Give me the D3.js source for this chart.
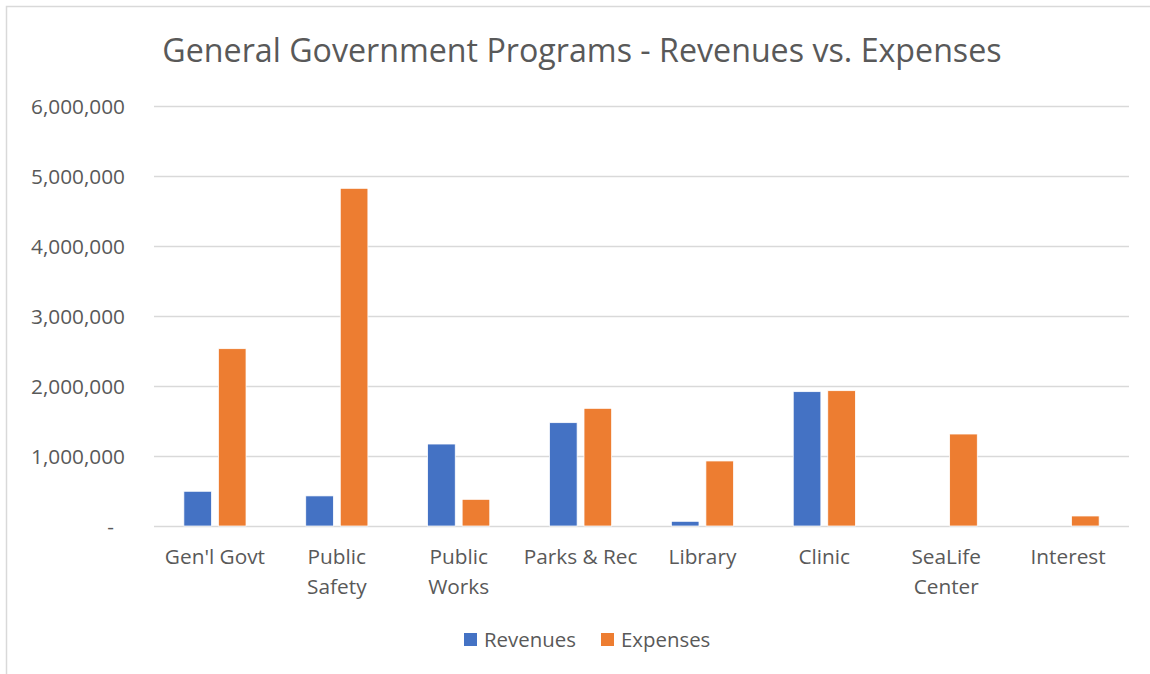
<!DOCTYPE html>
<html>
<head>
<meta charset="utf-8">
<script src="https://cdn.jsdelivr.net/npm/d3@7"></script>
<style>
  body { margin: 0; background: #fff; }
  svg { display: block; font-family: "Open Sans", sans-serif; }
</style>
</head>
<body>
<svg id="chart" width="1150" height="674"></svg>
<script>
var categories = [["Gen'l Govt"], ["Public", "Safety"], ["Public", "Works"], ["Parks & Rec"],
                  ["Library"], ["Clinic"], ["SeaLife", "Center"], ["Interest"]];
var seriesNames = ["Revenues", "Expenses"];
var revenues = [496000, 430000, 1171000, 1476000, 67000, 1919000, 0, 0];
var expenses = [2533000, 4824000, 381000, 1681000, 929000, 1933000, 1314000, 143000];
var yTicks = [0, 1000000, 2000000, 3000000, 4000000, 5000000, 6000000];
var colors = ["#4472c4", "#ed7d31"];

var svg = d3.select("#chart"),
    textColor = "#595959",
    gridColor = "#d9d9d9",
    plotL = 154, plotR = 1129, plotT = 106, plotB = 526;

// chart border
svg.append("rect")
    .attr("x", 6.5).attr("y", 6.5)
    .attr("width", 1160).attr("height", 700)
    .attr("fill", "none").attr("stroke", gridColor).attr("stroke-width", 1.5);

svg.append("text")
    .attr("x", 582).attr("y", 62)
    .attr("text-anchor", "middle")
    .attr("fill", textColor)
    .style("font-size", "32.2px")
    .text("General Government Programs - Revenues vs. Expenses");

var keys = categories.map(function (c) { return c.join(" "); });

var x0 = d3.scaleBand().domain(keys).range([plotL, plotR])
    .paddingInner(0.49).paddingOuter(0.245);
var x1 = d3.scaleBand().domain(seriesNames).range([0, x0.bandwidth()])
    .paddingInner(0.2);
var y = d3.scaleLinear().domain([0, 6000000]).range([plotB, plotT]);

// y axis + grid
var yAxis = svg.append("g")
    .attr("transform", "translate(" + plotL + ",0)")
    .call(d3.axisLeft(y).tickValues(yTicks).tickSize(-(plotR - plotL)).tickPadding(29)
        .tickFormat(function (d) { return d === 0 ? "-" : d3.format(",")(d); }));
yAxis.select(".domain").remove();
yAxis.selectAll(".tick line").attr("stroke", gridColor).attr("stroke-width", 1.5);
yAxis.selectAll(".tick text")
    .attr("fill", textColor)
    .style("font-size", "20.8px")
    .style("font-family", "'Open Sans', sans-serif")
    .attr("dy", "0.35em")
    .attr("dx", function (d) { return d === 0 ? -11 : 0; });

var rows = keys.map(function (k, i) {
    return { key: k, values: [revenues[i], expenses[i]] };
});

var groups = svg.append("g").selectAll("g").data(rows).join("g")
    .attr("transform", function (d) { return "translate(" + x0(d.key) + ",0)"; });

groups.selectAll("rect")
    .data(function (d) {
        return d.values.map(function (v, j) { return { name: seriesNames[j], value: v, i: j }; })
            .filter(function (e) { return e.value > 0; });
    })
    .join("rect")
    .attr("x", function (d) { return x1(d.name); })
    .attr("width", x1.bandwidth())
    .attr("y", function (d) { return y(d.value); })
    .attr("height", function (d) { return plotB - y(d.value); })
    .attr("fill", function (d) { return colors[d.i]; })
    .attr("stroke", "#fff").attr("stroke-width", 0.75);

// x labels
var xl = svg.append("g").selectAll("text").data(categories).join("text")
    .attr("x", function (d, i) { return x0(keys[i]) + x0.bandwidth() / 2; })
    .attr("y", 564)
    .attr("text-anchor", "middle")
    .attr("fill", textColor)
    .style("font-size", "20.8px");
xl.selectAll("tspan").data(function (d) { return d; }).join("tspan")
    .attr("x", function () { return d3.select(this.parentNode).attr("x"); })
    .attr("dy", function (d, i) { return i === 0 ? 0 : 30; })
    .text(function (d) { return d; });

// legend
var legend = svg.append("g").selectAll("g").data(seriesNames).join("g")
    .attr("transform", function (d, i) { return "translate(" + (464 + i * 137) + ",633)"; });
legend.append("rect").attr("width", 13).attr("height", 13)
    .attr("fill", function (d, i) { return colors[i]; });
legend.append("text").attr("x", 20).attr("y", 13.5)
    .attr("fill", textColor).style("font-size", "20.4px")
    .text(function (d) { return d; });
</script>
</body>
</html>
